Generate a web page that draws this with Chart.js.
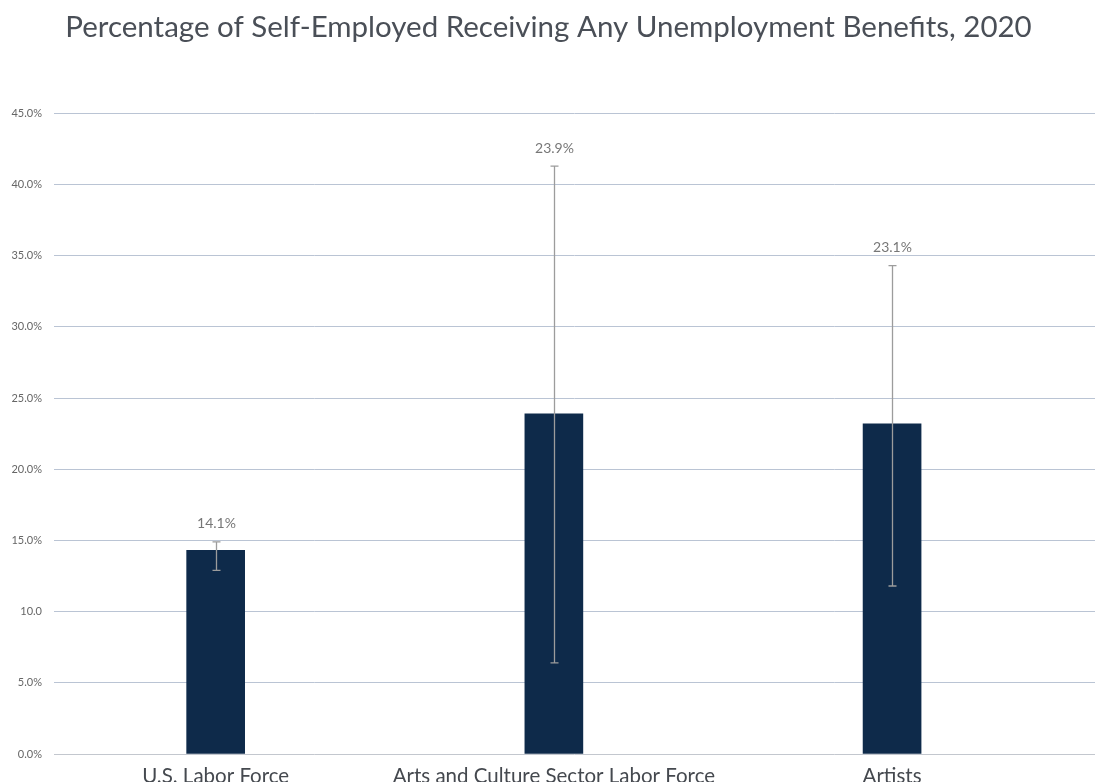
<!DOCTYPE html>
<html>
<head>
<meta charset="utf-8">
<script src="https://cdn.jsdelivr.net/npm/chart.js@4/dist/chart.umd.min.js"></script>
<style>
  html, body { margin: 0; padding: 0; background: #ffffff; }
  #wrap { width: 1097px; height: 782px; position: relative; }
</style>
</head>
<body>
<div id="wrap"><canvas id="c" width="1097" height="782"></canvas></div>
<script>
const chartTitle = 'Percentage of Self-Employed Receiving Any Unemployment Benefits, 2020';
const categories = ['U.S. Labor Force', 'Arts and Culture Sector Labor Force', 'Artists'];
const values = [14.3, 23.9, 23.2];
const valueLabels = ['14.1%', '23.9%', '23.1%'];
const errLow = [12.9, 6.4, 11.8];
const errHigh = [14.9, 41.3, 34.3];
const yTicks = [0, 5, 10, 15, 20, 25, 30, 35, 40, 45];
const yTickLabels = ['0.0%', '5.0%', '10.0', '15.0%', '20.0%', '25.0%', '30.0%', '35.0%', '40.0%', '45.0%'];

const FONT = "Lato, 'Noto Sans', sans-serif";

const errorBarPlugin = {
  id: 'errorBars',
  afterDatasetsDraw(chart) {
    const ctx = chart.ctx;
    const xs = chart.scales.x, ys = chart.scales.y;
    ctx.save();
    ctx.strokeStyle = '#9c9c9c';
    ctx.lineWidth = 1.3;
    for (let i = 0; i < categories.length; i++) {
      const x = Math.round(xs.getPixelForValue(i)) + 0.5;
      const yl = ys.getPixelForValue(errLow[i]);
      const yh = ys.getPixelForValue(errHigh[i]);
      ctx.beginPath();
      ctx.moveTo(x, yl); ctx.lineTo(x, yh);
      ctx.moveTo(x - 4, yl); ctx.lineTo(x + 4, yl);
      ctx.moveTo(x - 4, yh); ctx.lineTo(x + 4, yh);
      ctx.stroke();
      ctx.fillStyle = '#777777';
      ctx.font = '14px ' + FONT;
      ctx.textAlign = 'center';
      ctx.textBaseline = 'middle';
      ctx.fillText(valueLabels[i], x, yh - 18);
    }
    ctx.restore();
  }
};

new Chart(document.getElementById('c'), {
  type: 'bar',
  data: {
    datasets: [{
      data: values.map((v, i) => ({ x: i, y: v })),
      backgroundColor: '#0e2a4a',
      borderWidth: 0,
      barThickness: 58
    }]
  },
  options: {
    responsive: false,
    animation: false,
    layout: { padding: { left: 0, right: 0, top: 0, bottom: 0 } },
    plugins: {
      legend: { display: false },
      tooltip: { enabled: false },
      title: {
        display: true,
        text: chartTitle,
        color: '#4a4f57',
        font: { family: FONT, size: 29.5, weight: 'normal' },
        padding: { top: 10, bottom: 68 }
      }
    },
    scales: {
      x: {
        type: 'linear',
        offset: false,
        min: -0.478,
        max: 2.6,
        grid: { display: false },
        border: { display: false },
        ticks: {
          stepSize: 1,
          autoSkip: false,
          maxRotation: 0,
          padding: 2,
          color: '#45494f',
          font: { family: FONT, size: 20.5 },
          callback: (v) => (Number.isInteger(v) && categories[v] !== undefined) ? categories[v] : ''
        },
        afterFit: (s) => { s.height = 28; }
      },
      y: {
        min: 0,
        max: 45,
        border: { display: false },
        grid: {
          color: (c) => c.index === 0 ? '#c3c7ce' : '#bac4d4',
          lineWidth: 1,
          drawTicks: false
        },
        afterBuildTicks: (s) => { s.ticks = yTicks.map(v => ({ value: v })); },
        ticks: {
          padding: 12,
          color: '#666666',
          font: { family: FONT, size: 11 },
          callback: (v) => { const k = yTicks.indexOf(v); return k >= 0 ? yTickLabels[k] : ''; }
        },
        afterFit: (s) => { s.width = 54; }
      }
    }
  },
  plugins: [errorBarPlugin]
});
</script>
</body>
</html>
